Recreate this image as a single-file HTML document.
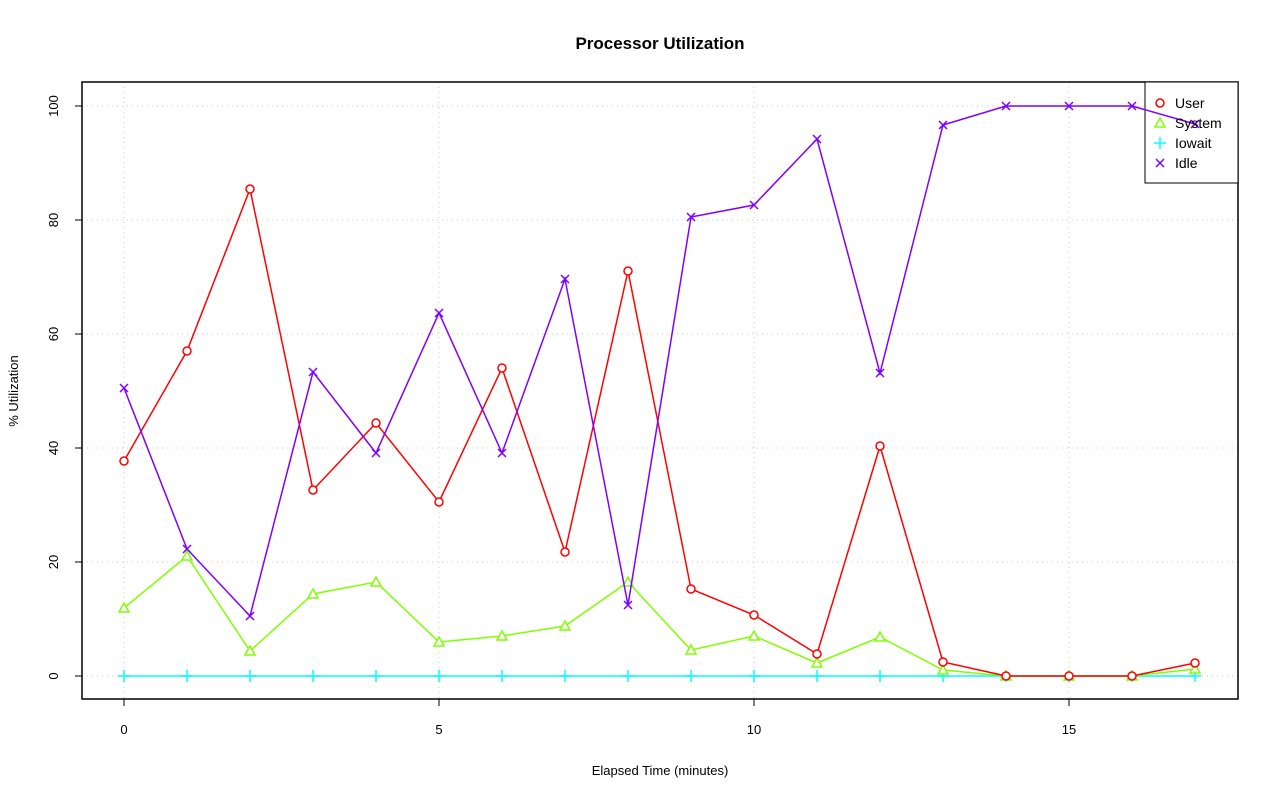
<!DOCTYPE html>
<html><head><meta charset="utf-8"><style>body{margin:0;background:#fff}svg{display:block}text{font-family:"Liberation Sans",sans-serif}</style></head>
<body>
<svg width="1280" height="801" viewBox="0 0 1280 801">
<rect width="1280" height="801" fill="#fff"/>
<text x="660" y="49" text-anchor="middle" font-size="17" font-weight="bold">Processor Utilization</text>
<g stroke="#c8c8c8" stroke-dasharray="1,4" stroke-width="1">
<line x1="124" y1="82" x2="124" y2="699"/><line x1="439" y1="82" x2="439" y2="699"/><line x1="754" y1="82" x2="754" y2="699"/><line x1="1069" y1="82" x2="1069" y2="699"/>
<line x1="82" y1="676" x2="1238" y2="676"/><line x1="82" y1="562" x2="1238" y2="562"/><line x1="82" y1="448" x2="1238" y2="448"/><line x1="82" y1="334" x2="1238" y2="334"/><line x1="82" y1="220" x2="1238" y2="220"/><line x1="82" y1="106" x2="1238" y2="106"/>
</g>
<rect x="82" y="82" width="1156" height="617" fill="none" stroke="#000" stroke-width="1.5"/>
<g stroke="#000"><line x1="124" y1="699" x2="124" y2="706"/><line x1="439" y1="699" x2="439" y2="706"/><line x1="754" y1="699" x2="754" y2="706"/><line x1="1069" y1="699" x2="1069" y2="706"/>
<line x1="75" y1="676" x2="82" y2="676"/><line x1="75" y1="562" x2="82" y2="562"/><line x1="75" y1="448" x2="82" y2="448"/><line x1="75" y1="334" x2="82" y2="334"/><line x1="75" y1="220" x2="82" y2="220"/><line x1="75" y1="106" x2="82" y2="106"/></g>
<g font-size="13" text-anchor="middle"><text x="124" y="734">0</text><text x="439" y="734">5</text><text x="754" y="734">10</text><text x="1069" y="734">15</text>
<text x="660" y="775">Elapsed Time (minutes)</text>
<text transform="translate(58,676) rotate(-90)">0</text><text transform="translate(58,562) rotate(-90)">20</text><text transform="translate(58,448) rotate(-90)">40</text><text transform="translate(58,334) rotate(-90)">60</text><text transform="translate(58,220) rotate(-90)">80</text><text transform="translate(58,106) rotate(-90)">100</text>
<text transform="translate(18,391) rotate(-90)">% Utilization</text></g>
<rect x="1145" y="82" width="93" height="101" fill="#fff" stroke="#000" stroke-width="1"/>
<polyline fill="none" stroke="#00ffff" stroke-width="1.5" points="124,676 1195,676"/>
<path fill="none" stroke="#00ffff" stroke-width="1.5" d="M118,676h12M124,670v12M181,676h12M187,670v12M244,676h12M250,670v12M307,676h12M313,670v12M370,676h12M376,670v12M433,676h12M439,670v12M496,676h12M502,670v12M559,676h12M565,670v12M622,676h12M628,670v12M685,676h12M691,670v12M748,676h12M754,670v12M811,676h12M817,670v12M874,676h12M880,670v12M937,676h12M943,670v12M1000,676h12M1006,670v12M1063,676h12M1069,670v12M1126,676h12M1132,670v12M1189,676h12M1195,670v12"/>
<polyline fill="none" stroke="#80ff00" stroke-width="1.5" points="124,608 187,556 250,651 313,594 376,582 439,642 502,636 565,626 628,582 691,650 754,636 817,663 880,637 943,670 1006,676 1069,676 1132,676 1195,669"/>
<path fill="#fff" stroke="#80ff00" stroke-width="1.5" d="M119,612L124,603L129,612ZM182,560L187,551L192,560ZM245,655L250,646L255,655ZM308,598L313,589L318,598ZM371,586L376,577L381,586ZM434,646L439,637L444,646ZM497,640L502,631L507,640ZM560,630L565,621L570,630ZM623,586L628,577L633,586ZM686,654L691,645L696,654ZM749,640L754,631L759,640ZM812,667L817,658L822,667ZM875,641L880,632L885,641ZM938,674L943,665L948,674ZM1001,680L1006,671L1011,680ZM1064,680L1069,671L1074,680ZM1127,680L1132,671L1137,680ZM1190,673L1195,664L1200,673Z"/>
<polyline fill="none" stroke="#ff0000" stroke-width="1.5" points="124,461 187,351 250,189 313,490 376,423 439,502 502,368 565,552 628,271 691,589 754,615 817,654 880,446 943,662 1006,676 1069,676 1132,676 1195,663"/>
<g fill="#fff" stroke="#f00" stroke-width="1.5">
<circle cx="124" cy="461" r="4"/><circle cx="187" cy="351" r="4"/><circle cx="250" cy="189" r="4"/><circle cx="313" cy="490" r="4"/><circle cx="376" cy="423" r="4"/><circle cx="439" cy="502" r="4"/><circle cx="502" cy="368" r="4"/><circle cx="565" cy="552" r="4"/><circle cx="628" cy="271" r="4"/><circle cx="691" cy="589" r="4"/><circle cx="754" cy="615" r="4"/><circle cx="817" cy="654" r="4"/><circle cx="880" cy="446" r="4"/><circle cx="943" cy="662" r="4"/><circle cx="1006" cy="676" r="4"/><circle cx="1069" cy="676" r="4"/><circle cx="1132" cy="676" r="4"/><circle cx="1195" cy="663" r="4"/>
</g>
<polyline fill="none" stroke="#8000ff" stroke-width="1.5" points="124,388 187,549 250,616 313,372 376,453 439,313 502,453 565,279 628,605 691,217 754,205 817,139 880,373 943,125 1006,106 1069,106 1132,106 1195,124"/>
<path fill="none" stroke="#8000ff" stroke-width="1.5" d="M120,384l8,8M128,384l-8,8M183,545l8,8M191,545l-8,8M246,612l8,8M254,612l-8,8M309,368l8,8M317,368l-8,8M372,449l8,8M380,449l-8,8M435,309l8,8M443,309l-8,8M498,449l8,8M506,449l-8,8M561,275l8,8M569,275l-8,8M624,601l8,8M632,601l-8,8M687,213l8,8M695,213l-8,8M750,201l8,8M758,201l-8,8M813,135l8,8M821,135l-8,8M876,369l8,8M884,369l-8,8M939,121l8,8M947,121l-8,8M1002,102l8,8M1010,102l-8,8M1065,102l8,8M1073,102l-8,8M1128,102l8,8M1136,102l-8,8M1191,120l8,8M1199,120l-8,8"/>
<g font-size="14"><text x="1175" y="108">User</text><text x="1175" y="128">System</text><text x="1175" y="148">Iowait</text><text x="1175" y="168">Idle</text></g>
<circle cx="1160" cy="103" r="4" fill="none" stroke="#f00" stroke-width="1.5"/>
<path d="M1155,127 L1160,118 L1165,127 Z" fill="none" stroke="#80ff00" stroke-width="1.5"/>
<path d="M1154,143 h12 M1160,137 v12" stroke="#00ffff" stroke-width="1.5"/>
<path d="M1156,159 l8,8 M1164,159 l-8,8" stroke="#8000ff" stroke-width="1.5"/>
</svg>
</body></html>
